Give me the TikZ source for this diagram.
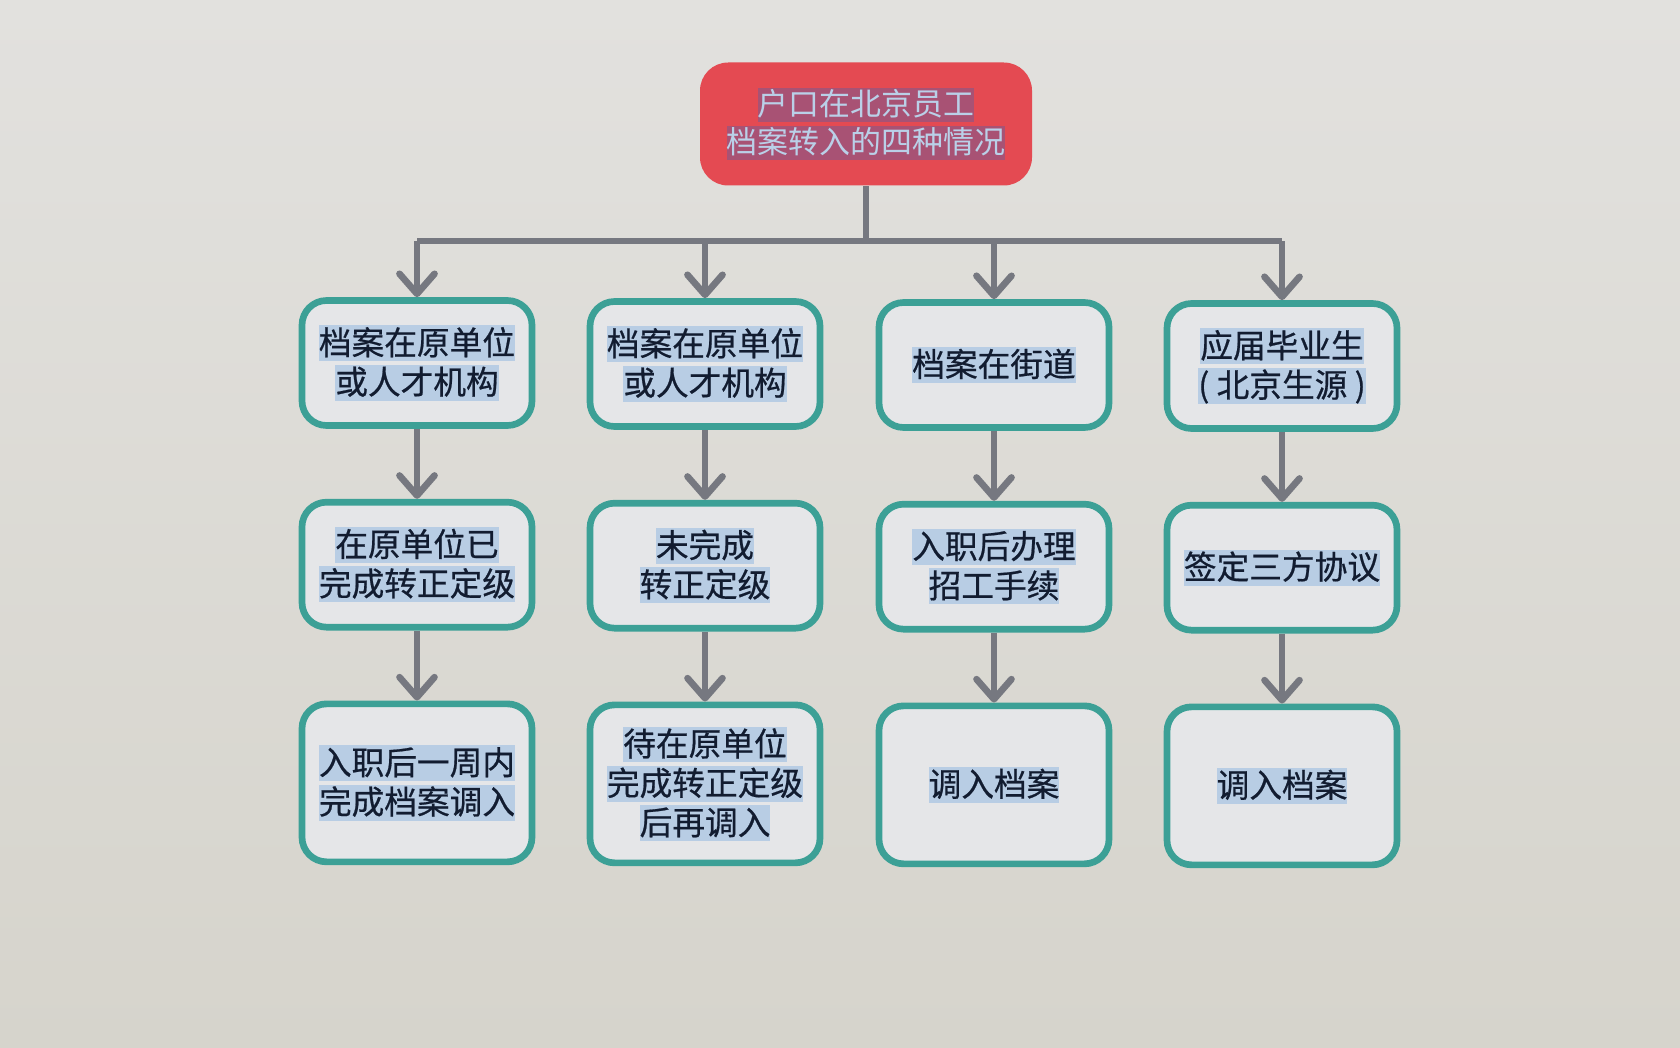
\documentclass[tikz,border=0pt]{standalone}
\usepackage{fontspec}
\setmainfont{Noto Sans CJK SC}[BoldFont={Noto Sans CJK SC}, BoldFeatures={FakeBold=0.6}]
\usetikzlibrary{arrows.meta, positioning}
\definecolor{paper}{RGB}{226,225,222}
\definecolor{paperlow}{RGB}{214,212,204}
\definecolor{headred}{RGB}{228,74,82}
\definecolor{headhl}{RGB}{168,82,116}
\definecolor{headtext}{RGB}{186,208,232}
\definecolor{teal}{RGB}{60,160,150}
\definecolor{boxfill}{RGB}{229,230,232}
\definecolor{hlblue}{RGB}{184,205,228}
\definecolor{navy}{RGB}{18,28,48}
\definecolor{arrowgray}{RGB}{118,120,128}
\setlength{\fboxsep}{0pt}
\newcommand{\hl}[1]{\colorbox{hlblue}{\rule[-0.2em]{0pt}{1.1em}#1}}
\newcommand{\hh}[1]{\colorbox{headhl}{\rule[-0.2em]{0pt}{1.1em}#1}}
\tikzset{
  block/.style={rectangle, rounded corners=7pt, draw=teal, line width=1.9pt,
                fill=boxfill, text=navy, minimum width=2.3cm, align=center,
                minimum height=1.25cm, font=\fontsize{9.3}{11.2}\selectfont\bfseries,
                inner sep=0pt},
  headbox/.style={rectangle, rounded corners=8pt, fill=headred, text=headtext,
                  minimum width=3.32cm, minimum height=1.23cm, align=center,
                  font=\fontsize{8.8}{10.8}\selectfont, inner sep=0pt},
  arrow/.style={-{Straight Barb[length=0.2cm, width=0.35cm, round]},
                line width=1.9pt, color=arrowgray},
  link/.style={line width=1.9pt, color=arrowgray},
}
\begin{document}
\begin{tikzpicture}[node distance=0.7cm]
  \fill[top color=paper, bottom color=paperlow] (0,0) rectangle (16.8,-10.48);
  \useasboundingbox (0,0) rectangle (16.8,-10.48);

  \node[headbox] (head) at (8.66,-1.24) {\hh{户口在北京员工}\\\hh{档案转入的四种情况}};

  % first row
  \node[block] (a1) at (4.17,-3.63) {\hl{档案在原单位}\\\hl{或人才机构}};
  \node[block] (b1) at (7.05,-3.64) {\hl{档案在原单位}\\\hl{或人才机构}};
  \node[block] (c1) at (9.94,-3.65) {\hl{档案在街道}};
  \node[block] (d1) at (12.82,-3.66) {\hl{应届毕业生}\\\hl{( 北京生源 )}};

  % second row
  \node[block, below=of a1] (a2) {\hl{在原单位已}\\\hl{完成转正定级}};
  \node[block, below=of b1] (b2) {\hl{未完成}\\\hl{转正定级}};
  \node[block, below=of c1] (c2) {\hl{入职后办理}\\\hl{招工手续}};
  \node[block, below=of d1] (d2) {\hl{签定三方协议}};

  % third row
  \node[block, below=of a2, minimum height=1.58cm] (a3) {\hl{入职后一周内}\\\hl{完成档案调入}};
  \node[block, below=of b2, minimum height=1.58cm] (b3) {\hl{待在原单位}\\\hl{完成转正定级}\\\hl{后再调入}};
  \node[block, below=of c2, minimum height=1.58cm] (c3) {\hl{调入档案}};
  \node[block, below=of d2, minimum height=1.58cm] (d3) {\hl{调入档案}};

  % tree
  \coordinate (bar) at (8.66,-2.41);
  \draw[link] (head.south) -- (bar);
  \draw[link] (a1.north |- bar) -- (d1.north |- bar);
  \foreach \col in {a,b,c,d} {
    \draw[arrow] (\col1.north |- bar) -- (\col1.north);
    \draw[arrow] (\col1) -- (\col2);
    \draw[arrow] (\col2) -- (\col3);
  }
\end{tikzpicture}
\end{document}
